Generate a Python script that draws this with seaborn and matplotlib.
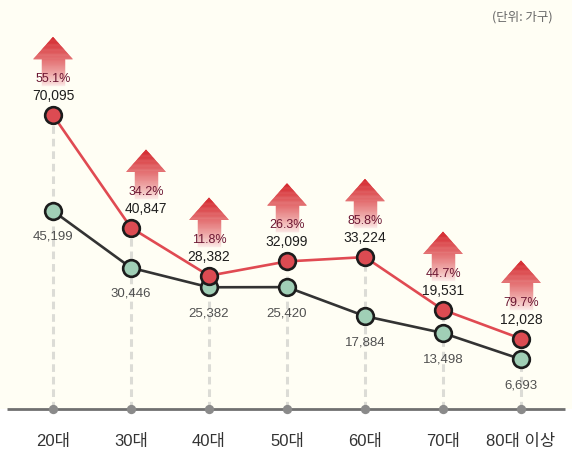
import numpy as np
import matplotlib
matplotlib.use('Agg')
import matplotlib.pyplot as plt
import matplotlib.transforms as mtransforms
from matplotlib.collections import PolyCollection
import seaborn as sns

# 연령대별 가구 수 (단위: 가구)
ages = ['20대', '30대', '40대', '50대', '60대', '70대', '80대 이상']
after = [70095, 40847, 28382, 32099, 33224, 19531, 12028]
before = [45199, 30446, 25382, 25420, 17884, 13498, 6693]
growth = ['55.1%', '34.2%', '11.8%', '26.3%', '85.8%', '44.7%', '79.7%']

sns.set_style('white')
plt.rcParams['font.family'] = ['Liberation Sans', 'Noto Sans CJK KR', 'DejaVu Sans']

fig = plt.figure(figsize=(5.72, 4.52), dpi=100, facecolor='white')
ax = fig.add_axes([0, 42 / 452, 1, 410 / 452])
ax.set_facecolor('#fffef4')

x = np.arange(len(ages))
ymin, ymax = -6234, 100260
ax.set_xlim(-53 / 78, (572 - 53) / 78)
ax.set_ylim(ymin, ymax)

# 점선 보조선
ax.vlines(x, ymin, after, colors='#dcdcd6', linestyles=(0, (2.5, 1.6)), linewidth=2.2, zorder=1)

# 두 개의 선
sns.lineplot(x=x, y=before, color='#333333', lw=1.9, marker='o', markersize=12,
             markerfacecolor='#a0cfb6', markeredgecolor='#1c1c1c', markeredgewidth=1.9,
             zorder=3, ax=ax)
sns.lineplot(x=x, y=after, color='#e04a52', lw=1.9, marker='o', markersize=12,
             markerfacecolor='#dc4b52', markeredgecolor='#1c1c1c', markeredgewidth=1.9,
             zorder=4, ax=ax)

# 바닥 축선과 점
ax.plot([(7 - 53) / 78, (565 - 53) / 78], [ymin, ymin], color='#707070', lw=2,
        clip_on=False, zorder=5, solid_capstyle='butt')
ax.scatter(x, [ymin] * len(x), s=45, color='#8a8a8a', zorder=6, clip_on=False, linewidths=0)

# 그라데이션 화살표
tip, neck, bottom = 78, 56, 29
hw_head, hw_shaft = 19.5, 11.5
dark = np.array([212, 32, 38]) / 255
light = np.array([253, 240, 236]) / 255


def half(y):
    if y < neck:
        return hw_shaft
    return hw_head * (tip - y) / (tip - neck)


ys = np.unique(np.append(np.linspace(bottom, tip, 60), neck))
for i in range(len(x)):
    dx = 15 if i == 1 else 0
    verts, cols = [], []
    for y0, y1 in zip(ys[:-1], ys[1:]):
        if y1 <= neck:
            h0 = h1 = hw_shaft
        else:
            h0, h1 = half(y0), half(y1)
        verts.append([(dx - h0, y0), (dx + h0, y0), (dx + h1, y1), (dx - h1, y1)])
        t = ((y0 + y1) / 2 - bottom) / (tip - bottom)
        cols.append(light + (dark - light) * t ** 0.8)
    trans = mtransforms.Affine2D() + mtransforms.ScaledTranslation(x[i], after[i], ax.transData)
    pc = PolyCollection(verts, facecolors=cols, edgecolors=cols, linewidths=0.3,
                        transform=trans, zorder=2)
    ax.add_collection(pc, autolim=False)

    ax.annotate(f'{after[i]:,}', (x[i], after[i]), xytext=(dx, 20), textcoords='offset pixels',
                ha='center', va='center', fontsize=10, color='#1e1e1e', zorder=7)
    ax.annotate(growth[i], (x[i], after[i]), xytext=(dx, 37), textcoords='offset pixels',
                ha='center', va='center', fontsize=9, color='#6b1632', zorder=7)
    ax.annotate(f'{before[i]:,}', (x[i], before[i]), xytext=(0, -25), textcoords='offset pixels',
                ha='center', va='center', fontsize=9.5, color='#505050', zorder=7)

ax.set_xticks(x, ages)
ax.set_yticks([])
ax.tick_params(axis='x', length=0, pad=17, labelsize=12, labelcolor='#333333')
sns.despine(ax=ax, left=True, bottom=True)

fig.text(553 / 572, 1 - 17 / 452, '(단위: 가구)', ha='right', va='center', fontsize=9,
         color='#666666', family=['Noto Sans CJK KR', 'DejaVu Sans'])

fig.savefig('out.png', dpi=100, facecolor=fig.get_facecolor())
